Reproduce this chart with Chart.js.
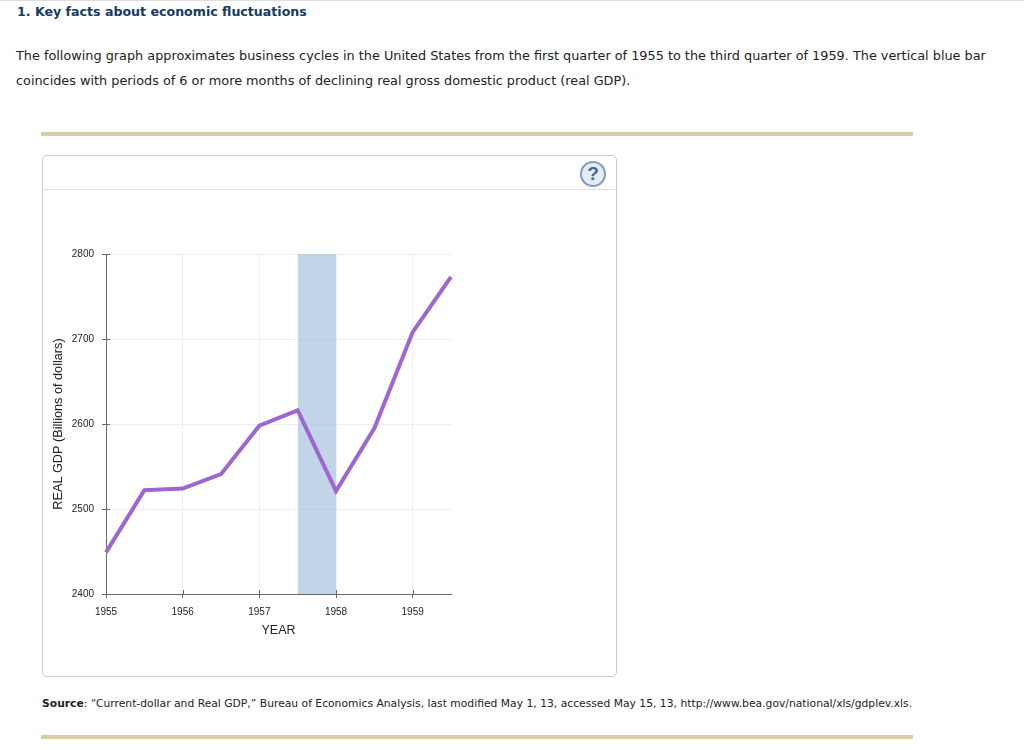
<!DOCTYPE html>
<html>
<head>
<meta charset="utf-8">
<title>Key facts about economic fluctuations</title>
<script src="https://cdn.jsdelivr.net/npm/chart.js@4"></script>
<style>
  html, body { margin: 0; padding: 0; background: #fff; }
  body { width: 1024px; height: 750px; position: relative; overflow: hidden; font-family: "DejaVu Sans", sans-serif; color: #222; }
  .line { position: absolute; white-space: nowrap; }
  #top-rule { position: absolute; left: 0; top: 0; width: 1024px; height: 1px; background: #ddd; }
  #heading { left: 17px; top: 4px; font-size: 12.6px; line-height: 16px; font-weight: bold; color: #153a63; }
  #intro-1 { left: 16px; top: 47px; font-size: 12.83px; line-height: 18px; }
  #intro-2 { left: 16px; top: 72px; font-size: 12.83px; line-height: 18px; }
  #source { left: 42px; top: 696px; font-size: 10.75px; line-height: 16px; }
  .tan { position: absolute; left: 41px; width: 872px; height: 4px; background: #d9cda4; }
  #card { position: absolute; left: 42px; top: 155px; width: 573px; height: 520px; border: 1px solid #ccc; border-radius: 5px; box-sizing: content-box; }
  #card-head { position: absolute; left: 0; top: 33px; width: 100%; height: 1px; background: #ddd; }
  #help { position: absolute; left: 537px; top: 5px; width: 22px; height: 22px; border: 2px solid #7e9cc2; border-radius: 50%; background: #e6ecf3; color: #3f6a9e; font: bold 19px/22px "Liberation Sans", sans-serif; text-align: center; }
  #chart-wrap { position: absolute; left: 42px; top: 190px; width: 574px; height: 486px; }
</style>
</head>
<body>
<div id="top-rule"></div>
<div class="line" id="heading">1. Key facts about economic fluctuations</div>
<div class="line" id="intro-1">The following graph approximates business cycles in the United States from the first quarter of 1955 to the third quarter of 1959. The vertical blue bar</div>
<div class="line" id="intro-2">coincides with periods of 6 or more months of declining real gross domestic product (real GDP).</div>
<div class="tan" style="top:132px"></div>
<div id="card">
  <div id="card-head"></div>
  <div id="help">?</div>
</div>
<div id="chart-wrap"><canvas id="gdp-chart"></canvas></div>
<div class="line" id="source"><b>Source</b>: “Current-dollar and Real GDP,” Bureau of Economics Analysis, last modified May 1, 13, accessed May 15, 13, http://www.bea.gov/national/xls/gdplev.xls.</div>
<div class="tan" style="top:735px"></div>

<script>
// values
const years = [1955, 1955.5, 1956, 1956.5, 1957, 1957.5, 1958, 1958.5, 1959, 1959.5];
const realGdp = [2449, 2522, 2524, 2541, 2598, 2616, 2521, 2595, 2708, 2773];
const recessionYears = [1957.5, 1958];
const recessionTop = [2800, 2800];
const yearTicks = [1955, 1956, 1957, 1958, 1959];
const gdpTicks = [2400, 2500, 2600, 2700, 2800];

const AXIS = '#6a6a6a';
const GRID = '#eeeeee';

// ticks cross the axis in the original, chart.js only draws the outer half
const innerTicks = {
  id: 'innerTicks',
  afterDatasetsDraw(chart) {
    const { ctx, scales: { x, y } } = chart;
    ctx.save();
    ctx.strokeStyle = AXIS;
    ctx.lineWidth = 1;
    ctx.beginPath();
    yearTicks.forEach(v => {
      const px = Math.round(x.getPixelForValue(v)) + 0.5;
      ctx.moveTo(px, y.bottom);
      ctx.lineTo(px, y.bottom - 4);
    });
    gdpTicks.forEach(v => {
      const py = Math.round(y.getPixelForValue(v)) + 0.5;
      ctx.moveTo(x.left, py);
      ctx.lineTo(x.left + 4, py);
    });
    ctx.stroke();
    ctx.restore();
  }
};

new Chart(document.getElementById('gdp-chart'), {
  type: 'line',
  data: {
    datasets: [
      {
        label: 'Real GDP',
        data: years.map((x, i) => ({ x, y: realGdp[i] })),
        borderColor: '#9e66d0',
        borderWidth: 4,
        borderJoinStyle: 'miter',
        pointRadius: 0,
        tension: 0,
        fill: false,
        clip: false,
        order: 1
      },
      {
        label: 'Recession',
        data: recessionYears.map((x, i) => ({ x, y: recessionTop[i] })),
        backgroundColor: 'rgba(160,187,217,0.64)',
        borderWidth: 0,
        pointRadius: 0,
        fill: 'start',
        order: 2
      }
    ]
  },
  options: {
    responsive: true,
    maintainAspectRatio: false,
    animation: false,
    layout: { padding: { left: 9, right: 165, top: 64, bottom: 38 } },
    plugins: { legend: { display: false }, tooltip: { enabled: false } },
    scales: {
      x: {
        type: 'linear',
        min: 1955,
        max: 1959.5,
        afterBuildTicks: scale => { scale.ticks = yearTicks.map(value => ({ value })); },
        afterFit: scale => { scale.height = 44; },
        grid: { color: GRID, tickColor: AXIS, tickLength: 4 },
        border: { color: AXIS },
        ticks: { color: '#222', font: { family: 'Liberation Sans', size: 10 }, padding: 8, maxRotation: 0, callback: v => String(v) },
        title: { display: true, text: 'YEAR', color: '#222', font: { family: 'Liberation Sans', size: 12.5 }, padding: { top: 6, bottom: 0 } }
      },
      y: {
        min: 2400,
        max: 2800,
        afterBuildTicks: scale => { scale.ticks = gdpTicks.map(value => ({ value })); },
        afterFit: scale => { scale.width = 55; },
        grid: { color: GRID, tickColor: AXIS, tickLength: 4 },
        border: { color: AXIS },
        ticks: { color: '#222', font: { family: 'Liberation Sans', size: 10 }, padding: 8, callback: v => String(v) },
        title: { display: true, text: 'REAL GDP (Billions of dollars)', color: '#222', font: { family: 'Liberation Sans', size: 12.7 }, padding: { top: 0, bottom: 0 } }
      }
    }
  },
  plugins: [innerTicks]
});
</script>
</body>
</html>
